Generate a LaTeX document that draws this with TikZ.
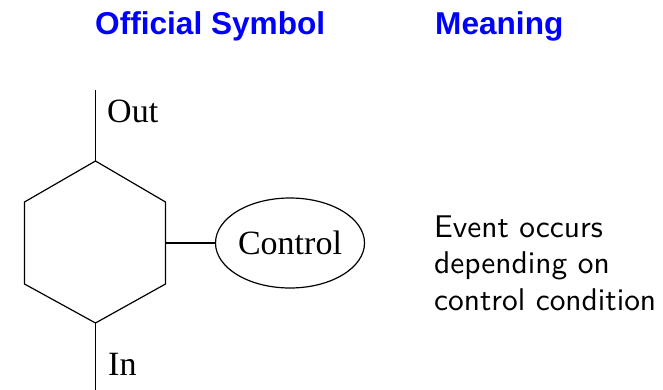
\documentclass[tikz,border=0pt]{standalone}
\usepackage{fontspec}
\setmainfont{Liberation Serif}
\newfontfamily\hdfont{Liberation Sans}
\newfontfamily\bodyfont{lmsans10-regular.otf}
\usetikzlibrary{shapes.geometric}
\definecolor{hdblue}{RGB}{0,0,255}
\tikzset{
  hdr/.style={anchor=base west, inner sep=0pt, text=hdblue, font=\hdfont\bfseries\fontsize{31.6}{36}\selectfont},
  lbl/.style={anchor=base west, inner sep=0pt, font=\fontsize{34}{40}\selectfont},
  body/.style={anchor=base west, inner sep=0pt, font=\bodyfont\fontsize{31.4}{37}\selectfont},
  ln/.style={line width=1.2pt, line join=miter}
}
\begin{document}
\begin{tikzpicture}[x=1pt,y=-1pt]
\useasboundingbox (0,0) rectangle (663,390);
% headers
\node[hdr] (h1) at (95,35) {Official Symbol};
\node[hdr] (h2) at (435,35) {Meaning};
% hexagon
\coordinate (t) at (95.5,161);
\coordinate (ur) at (165.5,202);
\coordinate (lr) at (165.5,284);
\coordinate (b) at (95.5,323);
\coordinate (ll) at (24.5,284);
\coordinate (ul) at (24.5,202);
\coordinate (rm) at (165.5,243);
\coordinate (otop) at (95.5,90);
\coordinate (ibot) at (95.5,390);
\draw[ln] (t) -- (ur) -- (lr) -- (b) -- (ll) -- (ul) -- cycle;
\draw[ln] (t) -- (otop);
\draw[ln] (b) -- (ibot);
\node[lbl] (out) at (107,123) {Out};
\node[lbl] (in) at (108,375) {In};
\node[ellipse, draw, line width=1.2pt, minimum width=149pt, minimum height=90pt, inner sep=0pt, font=\fontsize{34}{40}\selectfont] (ctl) at (290,243) {Control};
\draw[ln] (rm) -- (ctl.west);
% meaning
\node[body] (m1) at (434,237) {Event occurs};
\node[body] (m2) at (434,273) {depending on};
\node[body] (m3) at (434,310) {control condition};
\end{tikzpicture}
\end{document}
